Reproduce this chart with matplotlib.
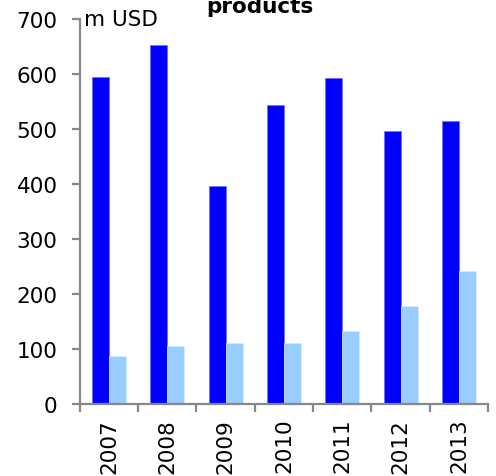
import matplotlib.pyplot as plt
import numpy as np

years = ['2007', '2008', '2009', '2010', '2011', '2012', '2013']
dark_values = [594, 653, 396, 543, 593, 497, 515]
light_values = [87, 106, 110, 111, 133, 178, 241]

DARK = '#0000FF'
LIGHT = '#99CCFF'
AXIS_GREY = '#888888'

fig = plt.figure(figsize=(4.96, 4.77), dpi=100)
ax = fig.add_axes([0.161, 0.151, 0.823, 0.807])

x = np.arange(len(years))
width = 0.29
ax.bar(x - width / 2, dark_values, width, color=DARK, edgecolor='#6f6fff', linewidth=0.5)
ax.bar(x + width / 2, light_values, width, color=LIGHT, edgecolor='#d6ebff', linewidth=0.5)

ax.set_xlim(-0.5, len(years) - 0.5)
ax.set_ylim(0, 700)
ax.set_yticks(range(0, 701, 100))

# boundary ticks as major, year labels on minor ticks at the centres
ax.set_xticks(np.append(x - 0.5, len(years) - 0.5))
ax.set_xticklabels([])
ax.set_xticks(x, minor=True)
ax.set_xticklabels(years, minor=True, rotation=90, fontsize=15.5)
ax.tick_params(axis='x', which='minor', length=0, pad=10)
ax.tick_params(axis='x', which='major', length=6, width=1.6, color=AXIS_GREY)
ax.tick_params(axis='y', length=6, width=1.6, color=AXIS_GREY, labelsize=15.5, pad=10)

for side in ('top', 'right'):
    ax.spines[side].set_visible(False)
for side in ('left', 'bottom'):
    ax.spines[side].set_color(AXIS_GREY)
    ax.spines[side].set_linewidth(1.6)

ax.text(0.01, 1.0, 'm USD', transform=ax.transAxes, fontsize=15.5,
        ha='left', va='center')
fig.text(0.523, 0.985, 'products', fontsize=15.5, fontweight='bold',
         ha='center', va='center')

fig.savefig('out.png', dpi=100)
